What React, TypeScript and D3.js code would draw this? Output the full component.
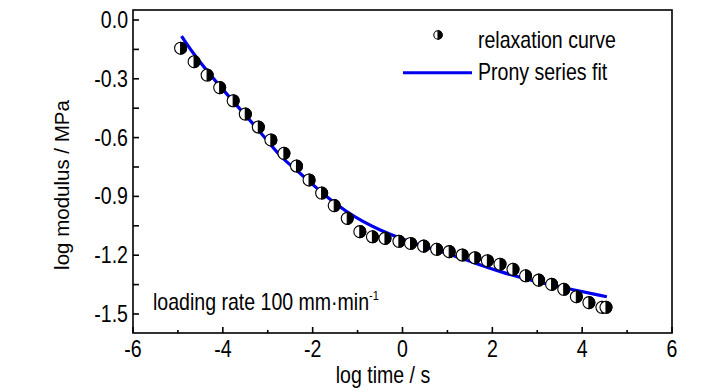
import React from "react";
import * as d3 from "d3";

const W = 728;
const H = 390;
const M = { left: 133, right: 672, top: 10, bottom: 333 };

const xDomain = [-6, 6];
const yDomain = [-1.597, 0.051];
const xTicks = [-6, -4, -2, 0, 2, 4, 6];
const xMinorTicks = [-5, -3, -1, 1, 3, 5];
const yTicks = [0, -0.3, -0.6, -0.9, -1.2, -1.5];
const yMinorTicks = [-0.15, -0.45, -0.75, -1.05, -1.35];
const yTickLabels = ["0.0", "-0.3", "-0.6", "-0.9", "-1.2", "-1.5"];
const xTickLabels = ["-6", "-4", "-2", "0", "2", "4", "6"];

// relaxation curve data (log time, log modulus)
const dataX = [
  -4.94, -4.64, -4.35, -4.07, -3.77, -3.5, -3.21, -2.93, -2.64, -2.36, -2.08, -1.8,
  -1.52, -1.23, -0.95, -0.67, -0.39, -0.08, 0.18, 0.47, 0.76, 1.04, 1.33, 1.61,
  1.89, 2.17, 2.46, 2.74, 3.03, 3.32, 3.59, 3.87, 4.15, 4.44, 4.53,
];
const dataY = [
  -0.144, -0.213, -0.281, -0.345, -0.412, -0.48, -0.546, -0.612, -0.68, -0.745, -0.816, -0.883,
  -0.947, -1.012, -1.08, -1.106, -1.114, -1.129, -1.14, -1.154, -1.17, -1.182, -1.199, -1.213,
  -1.228, -1.246, -1.272, -1.305, -1.327, -1.349, -1.374, -1.412, -1.442, -1.466, -1.466,
];

// Prony series fit
const fitX = [
  -4.92, -4.59, -3.84, -3.1, -2.73, -2.36, -1.99, -1.62, -1.25, -0.88, -0.51, -0.13,
  0.24, 0.61, 0.98, 1.42, 2.17, 2.91, 3.65, 4.55,
];
const fitY = [
  -0.082, -0.195, -0.399, -0.587, -0.697, -0.765, -0.842, -0.915, -0.978, -1.029, -1.071, -1.106,
  -1.137, -1.165, -1.19, -1.224, -1.285, -1.332, -1.369, -1.412,
];

const FONT = "'Liberation Sans', Arial, Helvetica, sans-serif";
const SX = 0.85; // horizontal condense factor of the reference's text
const BLUE = "#0000ee";

function HalfCircle({ cx, cy, r }: { cx: number; cy: number; r: number }) {
  return (
    <g>
      <circle cx={cx} cy={cy} r={r} fill="#fff" stroke="#000" strokeWidth={1.1} />
      <path
        d={`M${cx},${cy - r} A${r},${r} 0 0 1 ${cx},${cy + r} Z`}
        fill="#000"
        stroke="#000"
        strokeWidth={1.1}
      />
    </g>
  );
}

function CText({
  x,
  y,
  anchor,
  size,
  children,
}: {
  x: number;
  y: number;
  anchor: "start" | "middle" | "end";
  size: number;
  children: React.ReactNode;
}) {
  return (
    <g transform={`translate(${x},${y}) scale(${SX},1)`}>
      <text x={0} y={0} textAnchor={anchor} fontFamily={FONT} fontSize={size} fill="#000">
        {children}
      </text>
    </g>
  );
}

export default function App() {
  const x = d3.scaleLinear().domain(xDomain).range([M.left, M.right]);
  const y = d3.scaleLinear().domain(yDomain).range([M.bottom, M.top]);

  const fitPts: [number, number][] = fitX.map((v, i) => [v, fitY[i]]);
  const line = d3
    .line<[number, number]>()
    .x((d) => x(d[0]))
    .y((d) => y(d[1]))
    .curve(d3.curveBasis);

  const axisW = 1.6;

  return (
    <svg
      width={W}
      height={H}
      style={{ position: "absolute", left: 0, top: 0, background: "#fff" }}
    >
      <rect x={0} y={0} width={W} height={H} fill="#fff" />

      {/* fit curve */}
      <path d={line(fitPts) || ""} fill="none" stroke={BLUE} strokeWidth={3.2} />

      {/* data markers */}
      {dataX.map((v, i) => (
        <HalfCircle key={i} cx={x(v)} cy={y(dataY[i])} r={6} />
      ))}

      {/* frame */}
      <rect
        x={M.left}
        y={M.top}
        width={M.right - M.left}
        height={M.bottom - M.top}
        fill="none"
        stroke="#000"
        strokeWidth={axisW}
      />

      {/* x ticks */}
      {xTicks.map((t) => (
        <line key={"xt" + t} x1={x(t)} x2={x(t)} y1={M.bottom} y2={M.bottom - 6} stroke="#000" strokeWidth={axisW} />
      ))}
      {xMinorTicks.map((t) => (
        <line key={"xm" + t} x1={x(t)} x2={x(t)} y1={M.bottom} y2={M.bottom - 3} stroke="#000" strokeWidth={axisW} />
      ))}
      {xTicks.map((t, i) => (
        <CText key={"xl" + t} x={x(t)} y={357} anchor="middle" size={23}>
          {xTickLabels[i]}
        </CText>
      ))}

      {/* y ticks */}
      {yTicks.map((t) => (
        <line key={"yt" + t} x1={M.left} x2={M.left + 6} y1={y(t)} y2={y(t)} stroke="#000" strokeWidth={axisW} />
      ))}
      {yMinorTicks.map((t) => (
        <line key={"ym" + t} x1={M.left} x2={M.left + 6} y1={y(t)} y2={y(t)} stroke="#000" strokeWidth={axisW} />
      ))}
      {yTicks.map((t, i) => (
        <CText key={"yl" + t} x={128} y={y(t) + 8} anchor="end" size={23}>
          {yTickLabels[i]}
        </CText>
      ))}

      {/* axis titles */}
      <CText x={383} y={383} anchor="middle" size={23}>
        log time / s
      </CText>
      <text
        transform="translate(69,185) rotate(-90)"
        textAnchor="middle"
        fontFamily={FONT}
        fontSize={20.5}
        fill="#000"
      >
        log modulus / MPa
      </text>

      {/* annotation */}
      <CText x={153} y={310} anchor="start" size={23}>
        loading rate 100 mm·min
        <tspan fontSize={13} dy={-10}>
          -1
        </tspan>
      </CText>

      {/* legend */}
      <HalfCircle cx={438} cy={35} r={4.2} />
      <CText x={478} y={48} anchor="start" size={23}>
        relaxation curve
      </CText>
      <line x1={403} x2={472} y1={72.7} y2={72.7} stroke={BLUE} strokeWidth={3} />
      <CText x={478} y={80} anchor="start" size={23}>
        Prony series fit
      </CText>
    </svg>
  );
}
